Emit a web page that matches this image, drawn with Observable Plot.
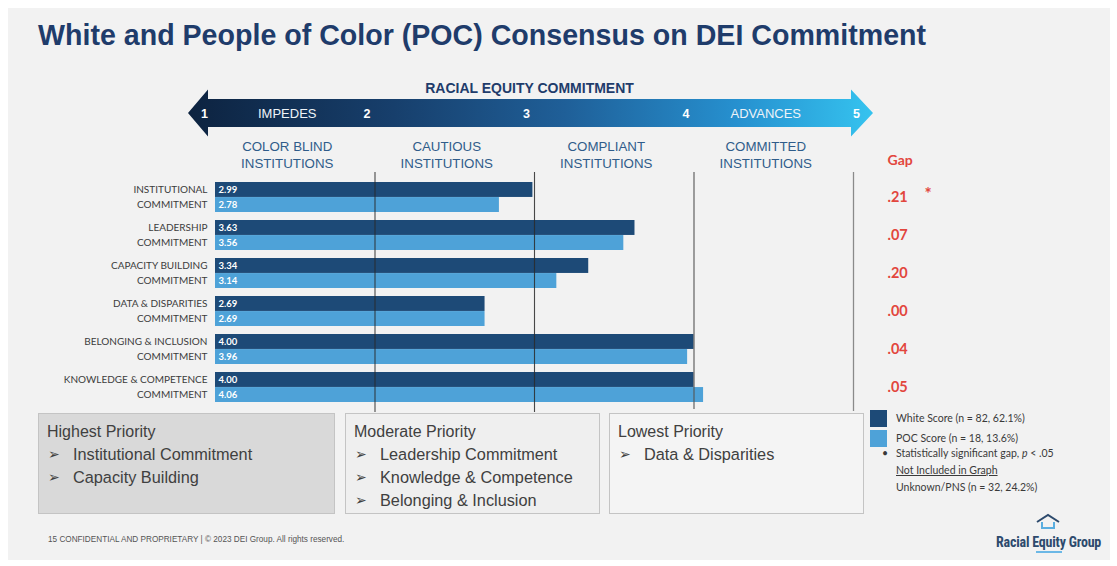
<!DOCTYPE html>
<html><head><meta charset="utf-8">
<script src="https://cdn.jsdelivr.net/npm/d3@7"></script>
<script src="https://cdn.jsdelivr.net/npm/@observablehq/plot@0.6"></script>
<style>
body{margin:0;background:#fff;width:1117px;height:566px;overflow:hidden;font-family:"Liberation Sans",Arial,sans-serif;}
#stage{position:relative;width:1117px;height:566px;}
#slide{position:absolute;left:8px;top:8px;width:1102px;height:552px;background:#f2f2f2;}
#chart{position:absolute;left:0;top:0;}
.abs{position:absolute;white-space:nowrap;}
.title{left:38px;top:21px;font-size:28.6px;line-height:29px;font-weight:bold;color:#1f3c6b;}
.box{position:absolute;box-sizing:border-box;border:1px solid #c4c4c4;top:413px;height:101px;}
.bh{font-size:16px;line-height:16px;color:#404040;position:absolute;left:8px;white-space:nowrap;}
.bi{font-size:16.3px;line-height:16px;color:#404040;position:absolute;left:34px;white-space:nowrap;}
.bul{font-family:"DejaVu Sans",sans-serif;font-size:14px;line-height:16px;color:#404040;position:absolute;left:9px;}
.leg{font-family:Lato,"Open Sans",sans-serif;font-size:10.5px;line-height:11px;color:#3a3a3a;}
.foot{left:48px;top:535px;font-size:8.2px;line-height:9px;color:#555;}
.logo{left:996px;top:535px;font-family:"Liberation Sans Narrow","Roboto Condensed","Liberation Sans",sans-serif;font-weight:bold;font-size:14px;line-height:14px;color:#2d4a6d;letter-spacing:-0.2px;}
</style></head><body>
<div id="stage">
<div id="slide"></div>
<div id="chart"></div>
<div class="abs title">White and People of Color (POC) Consensus on DEI Commitment</div>
<div id="boxes"></div>
<div id="legend"></div>
<div class="abs foot">15 CONFIDENTIAL AND PROPRIETARY | © 2023 DEI Group. All rights reserved.</div>
<svg class="abs" style="left:1034px;top:513px" width="30" height="18" viewBox="0 0 30 18">
  <path d="M3 9 L14 2 L25 9" fill="none" stroke="#2d4a6d" stroke-width="2"/>
  <path d="M8 9 L8 15 L20 15 L20 9" fill="none" stroke="#5aaee0" stroke-width="2"/>
</svg>
<div class="abs logo">Racial Equity Group</div>
<div class="abs" style="left:1036px;top:551px;width:26px;height:2px;background:#6cb8e6"></div>
</div>
<script>
// ---- data ----
const categories = ["Institutional Commitment","Leadership Commitment","Capacity Building Commitment","Data & Disparities Commitment","Belonging & Inclusion Commitment","Knowledge & Competence Commitment"];
const labelLine1 = ["INSTITUTIONAL","LEADERSHIP","CAPACITY BUILDING","DATA & DISPARITIES","BELONGING & INCLUSION","KNOWLEDGE & COMPETENCE"];
const labelLine2 = ["COMMITMENT","COMMITMENT","COMMITMENT","COMMITMENT","COMMITMENT","COMMITMENT"];
const whiteScores = [2.99, 3.63, 3.34, 2.69, 4.00, 4.00];
const pocScores = [2.78, 3.56, 3.14, 2.69, 3.96, 4.06];
const gapLabels = [".21", ".07", ".20", ".00", ".04", ".05"];
const gapSignificant = [true, false, false, false, false, false];
const scaleTicks = [1, 2, 3, 4, 5];
const stageNames = ["COLOR BLIND\nINSTITUTIONS","CAUTIOUS\nINSTITUTIONS","COMPLIANT\nINSTITUTIONS","COMMITTED\nINSTITUTIONS"];
const stageCenters = [1.5, 2.5, 3.5, 4.5];
const poleLabels = ["IMPEDES", "ADVANCES"];
const poleCenters = [1.5, 4.5];
const axisTitle = ["RACIAL EQUITY COMMITMENT"];
const priorityGroups = [
  {title:"Highest Priority", items:["Institutional Commitment","Capacity Building"]},
  {title:"Moderate Priority", items:["Leadership Commitment","Knowledge & Competence","Belonging & Inclusion"]},
  {title:"Lowest Priority", items:["Data & Disparities"]}
];
const legendItems = ["White Score (n = 82, 62.1%)", "POC Score (n = 18, 13.6%)"];

const rows = categories.map((c, i) => ({category:c, line1:labelLine1[i], line2:labelLine2[i], white:whiteScores[i], poc:pocScores[i], gap:gapLabels[i], sig:gapSignificant[i]}));

const DARK = "#1d4a77", LIGHT = "#4ea2d8", RED = "#e2463d";
const LF = "Lato, 'Open Sans', sans-serif";
const AF = "'Liberation Sans', Arial, sans-serif";

const chart = Plot.plot({
  width: 1117, height: 566,
  marginLeft: 215, marginRight: 264, marginTop: 176, marginBottom: 159,
  style: {background: "transparent", overflow: "visible"},
  x: {domain: [1, 5], axis: null},
  y: {domain: categories, axis: null, paddingInner: 0.22, paddingOuter: 0.11},
  marks: [
    Plot.barX(rows, {y: "category", x1: scaleTicks[0], x2: "white", fill: DARK, insetBottom: 15.05}),
    Plot.barX(rows, {y: "category", x1: scaleTicks[0], x2: "poc", fill: LIGHT, insetTop: 15.05}),
    Plot.ruleX([2, 3], {x: d => d, stroke: "#2a2a2a", strokeWidth: 1.1, strokeOpacity: 0.85, insetTop: -4, insetBottom: -5}),
    Plot.ruleX([4], {x: d => d, stroke: "#555", strokeWidth: 1.1, insetTop: -4, insetBottom: -2}),
    Plot.ruleX([5], {x: d => d, stroke: "#8a8a8a", strokeWidth: 1.3, insetTop: -4, insetBottom: -4}),
    Plot.text(rows, {y: "category", x: scaleTicks[0], text: d => d.white.toFixed(2), dx: 3, dy: -7.5, textAnchor: "start", fill: "white", fontWeight: "bold", fontSize: 9.5, fontFamily: LF}),
    Plot.text(rows, {y: "category", x: scaleTicks[0], text: d => d.poc.toFixed(2), dx: 3, dy: 7.5, textAnchor: "start", fill: "white", fontWeight: "bold", fontSize: 9.5, fontFamily: LF}),
    Plot.text(rows, {y: "category", frameAnchor: "left", text: "line1", dx: -8, dy: -7.5, textAnchor: "end", fill: "#3c3c3c", fontSize: 10, fontFamily: LF}),
    Plot.text(rows, {y: "category", frameAnchor: "left", text: "line2", dx: -8, dy: 7.5, textAnchor: "end", fill: "#3c3c3c", fontSize: 10, fontFamily: LF}),
    Plot.text(rows, {y: "category", frameAnchor: "right", text: "gap", dx: 34, textAnchor: "start", fill: RED, fontWeight: "bold", fontSize: 14.5, fontFamily: LF}),
    Plot.text(rows.filter(d => d.sig), {y: "category", frameAnchor: "right", text: () => "*", dx: 71, dy: -3, textAnchor: "start", fill: RED, fontWeight: "bold", fontSize: 17, fontFamily: LF}),
    Plot.text(["Gap"], {frameAnchor: "top-right", text: d => d, dx: 34, dy: -16, lineAnchor: "middle", textAnchor: "start", fill: RED, fontWeight: "bold", fontSize: 14, fontFamily: LF}),
    Plot.text(stageNames, {x: (d, i) => stageCenters[i], text: d => d, frameAnchor: "top", lineAnchor: "middle", dx: -8, dy: -22.5, lineHeight: 1.3, fill: "#2f5c8a", fontSize: 13.3, fontFamily: AF}),
    Plot.text(axisTitle, {x: scaleTicks[2], text: d => d, frameAnchor: "top", lineAnchor: "middle", dx: -5, dy: -88, fill: "#1f3c6b", fontWeight: "bold", fontSize: 14, fontFamily: AF}),
    Plot.text(poleLabels, {x: (d, i) => poleCenters[i], text: d => d, frameAnchor: "top", lineAnchor: "middle", dx: -8, dy: -63, fill: "#eef3f8", fontSize: 13, fontFamily: AF}),
    Plot.text(scaleTicks.slice(1, 4), {x: d => d, text: d => String(d), frameAnchor: "top", lineAnchor: "middle", dx: -8, dy: -63, fill: "white", fontWeight: "bold", fontSize: 12.5, fontFamily: AF}),
    Plot.text(scaleTicks.slice(0, 1), {x: d => d, text: d => String(d), frameAnchor: "top", lineAnchor: "middle", dx: -11, dy: -63, fill: "white", fontWeight: "bold", fontSize: 12.5, fontFamily: AF}),
    Plot.text(scaleTicks.slice(4), {x: d => d, text: d => String(d), frameAnchor: "top", lineAnchor: "middle", dx: 3, dy: -63, fill: "white", fontWeight: "bold", fontSize: 12.5, fontFamily: AF})
  ]
});
document.getElementById("chart").appendChild(chart);

// decorative double arrow behind the scale numbers, positioned with the plot's x scale
(function(){
  const sx = chart.scale("x");
  const xs = sx.apply(scaleTicks[0]), xe = sx.apply(scaleTicks[scaleTicks.length - 1]);
  const cy = 113, hh = 23.5, sh = 14;
  const ns = "http://www.w3.org/2000/svg";
  const g = document.createElementNS(ns, "g");
  const defs = document.createElementNS(ns, "defs");
  defs.innerHTML = `<linearGradient id="arrowGrad" x1="0" x2="1" y1="0" y2="0">
    <stop offset="0" stop-color="#0d2340"/><stop offset="0.3" stop-color="#173f6c"/>
    <stop offset="0.55" stop-color="#1f5f98"/><stop offset="0.8" stop-color="#2690cf"/>
    <stop offset="1" stop-color="#35c3ef"/></linearGradient>`;
  g.appendChild(defs);
  const p = document.createElementNS(ns, "path");
  const lt = xs - 27, lb = xs - 7, rb = xe - 2, rt = xe + 20;
  p.setAttribute("d", `M${lt},${cy} L${lb},${cy-hh} L${lb},${cy-sh} L${rb},${cy-sh} L${rb},${cy-hh} L${rt},${cy} L${rb},${cy+hh} L${rb},${cy+sh} L${lb},${cy+sh} L${lb},${cy+hh} Z`);
  p.setAttribute("fill", "url(#arrowGrad)");
  g.appendChild(p);
  const firstG = chart.querySelector("g");
  chart.insertBefore(g, firstG);
})();

// priority boxes
(function(){
  const specs = [{left:38, width:297, bg:"#d9d9d9"}, {left:345, width:255, bg:"#efefef"}, {left:609, width:255, bg:"#f4f4f4"}];
  const host = document.getElementById("boxes");
  priorityGroups.forEach((grp, i) => {
    const b = document.createElement("div");
    b.className = "box";
    b.style.left = specs[i].left + "px"; b.style.width = specs[i].width + "px"; b.style.background = specs[i].bg;
    const h = document.createElement("div"); h.className = "bh"; h.style.top = "10px"; h.textContent = grp.title; b.appendChild(h);
    grp.items.forEach((it, j) => {
      const bu = document.createElement("div"); bu.className = "bul"; bu.style.top = (32 + j*23) + "px"; bu.textContent = "➢"; b.appendChild(bu);
      const t = document.createElement("div"); t.className = "bi"; t.style.top = (32 + j*23) + "px"; t.textContent = it; b.appendChild(t);
    });
    host.appendChild(b);
  });
})();

// legend
(function(){
  const host = document.getElementById("legend");
  const sw = [DARK, LIGHT];
  legendItems.forEach((txt, i) => {
    const s = document.createElement("div"); s.className = "abs";
    Object.assign(s.style, {left:"870px", top:(410 + i*20) + "px", width:"17px", height:"17px", background: sw[i]});
    host.appendChild(s);
    const t = document.createElement("div"); t.className = "abs leg";
    Object.assign(t.style, {left:"896px", top:(413 + i*20) + "px"});
    t.textContent = txt; host.appendChild(t);
  });
  const extra = [
    {html:"•", left:882, top:448},
    {html:"Statistically significant gap, <i>p</i> &lt; .05", left:896, top:448},
    {html:"<u>Not Included in Graph</u>", left:896, top:465},
    {html:"Unknown/PNS (n = 32, 24.2%)", left:896, top:482}
  ];
  extra.forEach(e => {
    const t = document.createElement("div"); t.className = "abs leg";
    Object.assign(t.style, {left:e.left + "px", top:e.top + "px"});
    t.innerHTML = e.html; host.appendChild(t);
  });
})();
</script>
</body></html>
